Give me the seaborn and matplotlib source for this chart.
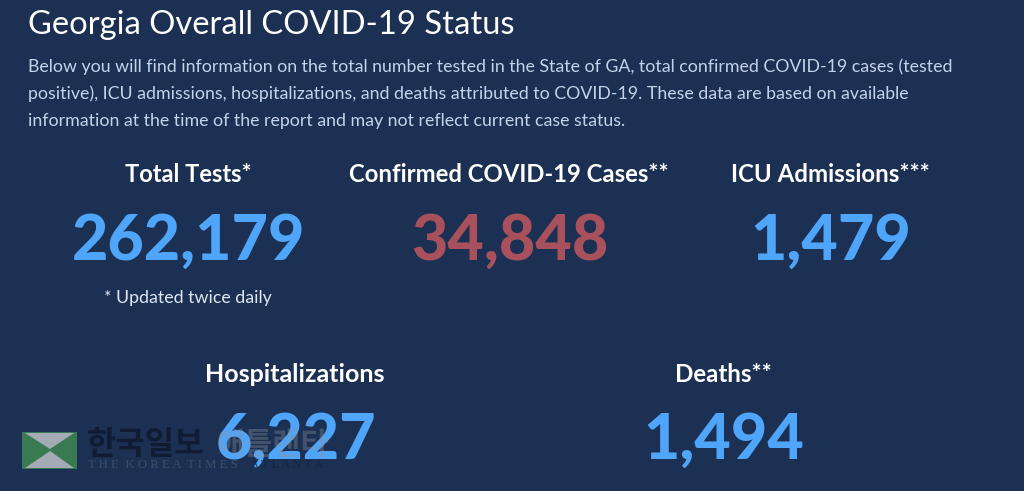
import seaborn as sns
import matplotlib.pyplot as plt
from matplotlib.patches import Polygon

# stat cards
labels = ["Total Tests*", "Confirmed COVID-19 Cases**", "ICU Admissions***", "Hospitalizations", "Deaths**"]
values = ["262,179", "34,848", "1,479", "6,227", "1,494"]
value_colors = ["#4fa5fa", "#a8515d", "#4fa5fa", "#4fa5fa", "#4fa5fa"]
card_x = [188, 509, 830, 295, 723]
label_y = [175, 175, 175, 374, 374]
value_y = [242, 242, 242, 441, 441]
label_size = [17.0, 17.2, 17.3, 18.0, 17.4]

title = "Georgia Overall COVID-19 Status"
intro = [
    "Below you will find information on the total number tested in the State of GA, total confirmed COVID-19 cases (tested",
    "positive), ICU admissions, hospitalizations, and deaths attributed to COVID-19. These data are based on available",
    "information at the time of the report and may not reflect current case status.",
]
note = "* Updated twice daily"

bg = "#1b3052"
sns.set_theme(style="white", rc={"figure.facecolor": bg, "axes.facecolor": bg})
plt.rcParams["font.family"] = ["Lato", "Noto Sans CJK KR", "DejaVu Sans"]

fig, ax = plt.subplots(figsize=(10.24, 4.91), dpi=100)
fig.subplots_adjust(left=0, right=1, top=1, bottom=0)
ax.set_xlim(0, 1024)
ax.set_ylim(491, 0)
ax.axis("off")

ax.text(28, 25, title, color="white", fontsize=23.6, va="center", ha="left")
for i, line in enumerate(intro):
    ax.text(28, 67 + i * 27, line, color="#c3d3ea", fontsize=12.8, va="center", ha="left")

# watermark, under the numbers
ax.add_patch(Polygon([(22, 432), (77, 432), (77, 469), (22, 469)], closed=True, fc="#3a7a52", ec="none", zorder=1))
ax.add_patch(Polygon([(25, 433), (74, 433), (50, 449)], closed=True, fc="#a5abb5", ec="none", zorder=1))
ax.add_patch(Polygon([(25, 468), (74, 468), (50, 451)], closed=True, fc="#a5abb5", ec="none", zorder=1))
ax.text(87, 445, "한국일보", color="#0f1c33", fontsize=23, fontweight="bold", family="Noto Sans CJK KR",
        va="center", ha="left", zorder=1)
ax.text(88, 465, "T H E  K O R E A  T I M E S", color="#3c4e69", fontsize=9.2, family="Liberation Serif",
        va="center", ha="left", zorder=1)

for name, val, col, x, ly, vy, ls in zip(labels, values, value_colors, card_x, label_y, value_y, label_size):
    ax.text(x, ly, name, color="white", fontsize=ls, fontweight="bold", va="center", ha="center", zorder=3)
    ax.text(x + 1, vy, val, color=col, fontsize=45.2, fontweight="black", va="center", ha="center", zorder=3)

# the rest of the watermark lies over the number
ax.text(216, 445, "애틀랜타", color="#8f959c", alpha=0.35, fontsize=22, fontweight="bold", family="Noto Sans CJK KR",
        va="center", ha="left", zorder=4)
ax.text(250, 465, "A T L A N T A", color="#13233f", alpha=0.8, fontsize=9, family="Liberation Serif",
        va="center", ha="left", zorder=4)

ax.text(188, 298, note, color="#dfe7f3", fontsize=12.8, va="center", ha="center")

fig.savefig("out.png", dpi=100, facecolor=bg)
